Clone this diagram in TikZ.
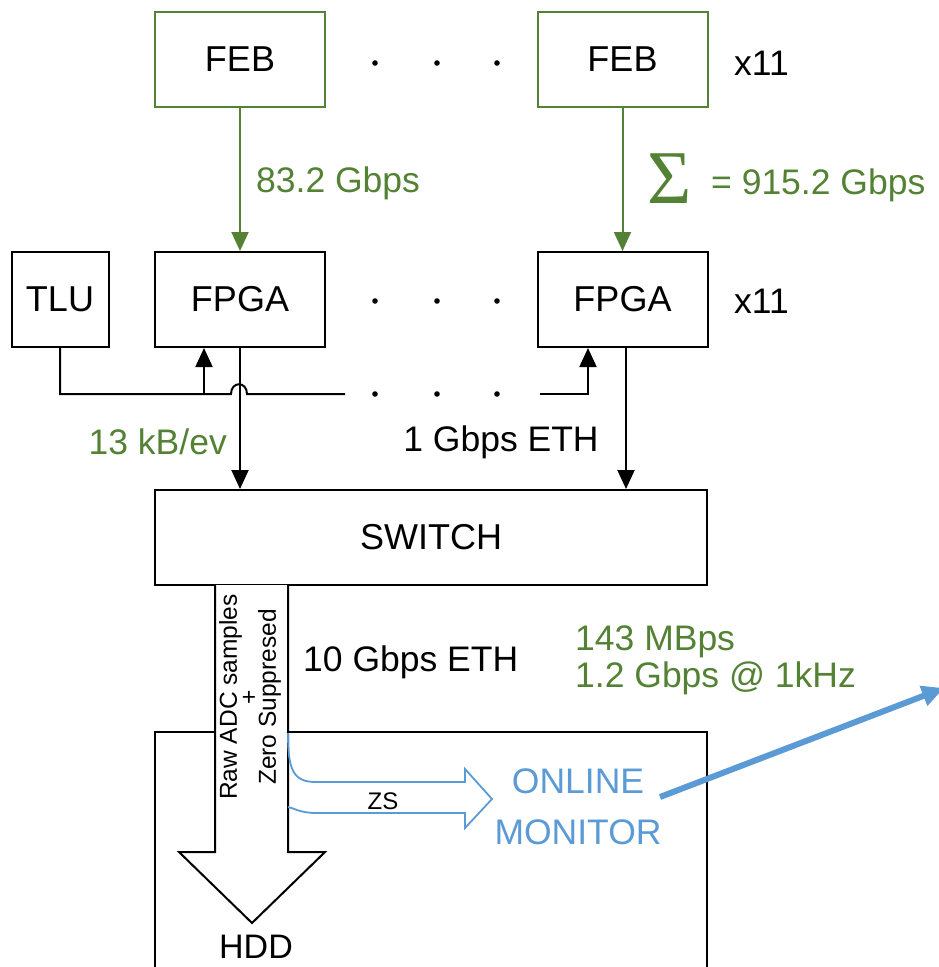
\documentclass[tikz,border=0pt]{standalone}
\usepackage{fontspec}
\setmainfont{Liberation Sans}
\newfontfamily\sigmafont{Liberation Serif}
\usetikzlibrary{arrows.meta}
\definecolor{dgreen}{HTML}{548235}
\definecolor{mblue}{HTML}{5B9BD5}
\tikzset{
  box/.style={draw, line width=2pt, minimum width=#1, minimum height=95pt, inner sep=0pt,
    font=\fontsize{36}{42}\selectfont},
  febbox/.style={box=#1, draw=dgreen},
  arr/.style={-{Triangle[length=19pt,width=17pt]}, line width=2pt},
  garr/.style={arr, draw=dgreen, color=dgreen},
  lbl/.style={font=\fontsize{35.5}{37}\selectfont, inner sep=0pt},
  glbl/.style={lbl, text=dgreen},
  dotmark/.style={fill=black}
}
\begin{document}
\begin{tikzpicture}[x=1pt, y=-1pt]
\useasboundingbox (0,0) rectangle (938,967);
\fill[white] (0,0) rectangle (938,967);

% front-end boards
\node[febbox=170pt] (feb1) at (240,59.5) {FEB};
\node[febbox=170pt] (feb2) at (622.5,59.5) {FEB};
\node[lbl, anchor=west] (n1) at (734,63) {x11};
\foreach \x in {375,437,497} \fill[dotmark] (\x,63) circle (2.8pt);

% FPGA row
\node[box=97pt] (tlu) at (60,299.5) {TLU};
\node[box=170pt] (fpga1) at (240,299.5) {FPGA};
\node[box=170pt] (fpga2) at (622.5,299.5) {FPGA};
\node[lbl, anchor=west] (n2) at (734,301) {x11};
\foreach \x in {375,437,497} \fill[dotmark] (\x,301) circle (2.8pt);

% data links FEB -> FPGA
\draw[garr] (feb1.south) -- (fpga1.north);
\draw[garr] (feb2.south) -- (fpga2.north);
\node[glbl, anchor=west] (r1) at (256,183) {83.2 Gbps};
\node[inner sep=0pt, text=dgreen, font=\sigmafont\fontsize{76}{76}\selectfont] (sig) at (670,179) {Σ};
\node[glbl, anchor=west] (rsum) at (711,185) {= 915.2 Gbps};

% trigger bus from the TLU
\coordinate (tap1) at (204,394);
\coordinate (busL) at (345,394);
\coordinate (busR) at (540,394);
\draw[line width=2pt] (tlu.south) |- (231,394)
  .. controls (231,381) and (247,381) .. (247,394) -- (busL);
\draw[arr] (tap1) -- (tap1 |- fpga1.south);
\draw[arr] (busR) -| ([xshift=-34.5pt]fpga2.south);
\foreach \x in {375,437,497} \fill[dotmark] (\x,394) circle (2.8pt);

% switch
\node[box=552pt] (switch) at (431,537.5) {SWITCH};
\draw[arr] (fpga1.south) -- (fpga1.south |- switch.north);
\draw[arr] ([xshift=3.5pt]fpga2.south) -- ([xshift=3.5pt]fpga2.south |- switch.north);
\node[glbl, anchor=east] (l13) at (227,442) {13 kB/ev};
\node[lbl] (l1g) at (501,442) {1 Gbps ETH};

% storage box (continues below)
\draw[line width=2pt] (155,975) -- (155,732) -- (707,732) -- (707,975);

% wide arrow to disk
\draw[line width=2pt, fill=white, line join=miter] (215,585) -- (215,852) -- (179,852) -- (252,923)
  -- (325,852) -- (288,852) -- (288,585);
\node[rotate=90, align=center, inner sep=0pt, font=\fontsize{24.5}{17}\selectfont] (raw) at (250,697)
  {Raw ADC samples\\+\\Zero Suppresed};
\node[inner sep=0pt, font=\fontsize{34}{34}\selectfont] (hdd) at (256,947) {HDD};
\node[lbl, anchor=west] (l10g) at (303,662) {10 Gbps ETH};
\node[glbl, anchor=west, align=left] (rate) at (575,660) {143 MBps\\1.2 Gbps @ 1kHz};

% zero-suppressed branch to the online monitor
\draw[mblue, line width=1.8pt, line join=miter] (288,733) .. controls (288,770) and (293,782) .. (316,782)
  -- (465,782) -- (465,769) -- (492,799) -- (465,828) -- (465,813) -- (316,813)
  .. controls (300,813) and (294,808) .. (288,807);
\node[inner sep=0pt, font=\fontsize{24}{24}\selectfont] (zs) at (383,801) {ZS};
\node[text=mblue, inner sep=0pt, align=center, font=\fontsize{35.5}{51}\selectfont] (mon) at (578,807) {ONLINE\\MONITOR};
\coordinate (monout) at (944,688);
\draw[mblue, line width=6pt, -{Triangle[length=22pt,width=20pt]}] (660,797) -- (monout);
\end{tikzpicture}
\end{document}
